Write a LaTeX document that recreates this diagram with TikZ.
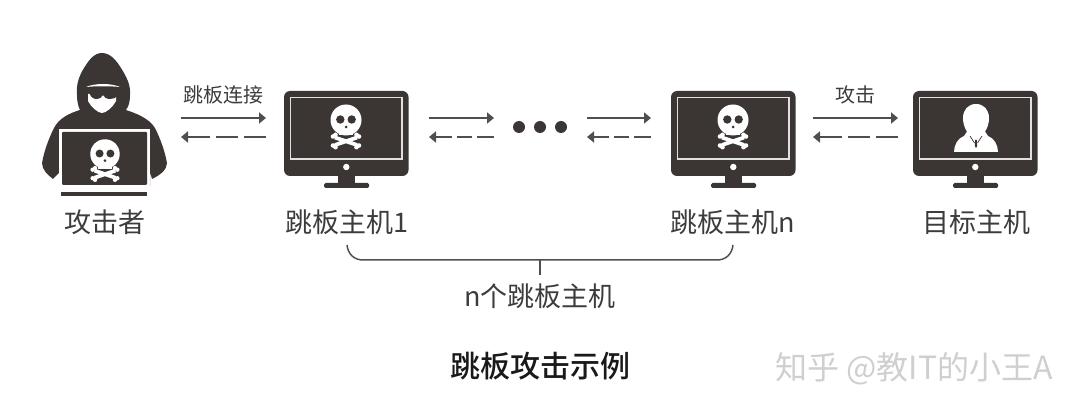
\documentclass[tikz,border=0pt]{standalone}
\usepackage{fontspec}
\setmainfont{Noto Sans CJK SC}
\newfontfamily\cjkmedium{Noto Sans CJK SC Medium}
\usetikzlibrary{arrows.meta}
\definecolor{ink}{HTML}{3B3634}
\definecolor{arrowc}{HTML}{4F4F4F}
\definecolor{labelc}{HTML}{3C3C3C}
\definecolor{wm}{HTML}{CFCFCF}
\tikzset{
  x=1pt,y=-1pt,
  lbl/.style={font=\fontsize{27pt}{30pt}\selectfont,text=labelc,inner sep=0pt},
  smalllbl/.style={font=\fontsize{20pt}{22pt}\selectfont,text=labelc,inner sep=0pt},
  solidarrow/.style={draw=arrowc,line width=2.2pt,-{Triangle[length=7pt,width=11pt]}},
  dasharrow/.style={draw=arrowc,line width=2.2pt,-{Triangle[length=7pt,width=11pt]}},
  pics/skull/.style={code={
    \fill[white] (0,0) circle (15.5);
    \fill[white] (-7,8) rectangle (7,15.5);
    \fill[ink] (-5.7,-0.5) circle (4.2) (5.7,-0.5) circle (4.2);
    \fill[ink] (0,7) circle (1.5);
    \draw[white,line width=3.8pt] (-11,25) -- (11,17.5) (-11,17.5) -- (11,25);
    \fill[white] (-13,16.5) circle (2.3) (-10.5,14.8) circle (2.3)
                 (13,16.5) circle (2.3) (10.5,14.8) circle (2.3)
                 (-13,25.5) circle (2.3) (-10.5,27.2) circle (2.3)
                 (13,25.5) circle (2.3) (10.5,27.2) circle (2.3);
  }},
  pics/screen/.style={code={
    \fill[ink,rounded corners=6pt] (0,0) rectangle (124.5,85);
    \draw[white!85!ink,line width=1.5pt] (6.5,6.5) rectangle (118,68);
    \fill[white] (62.3,76) circle (3.2);
    \fill[ink] (53.5,84) rectangle (71,93);
    \fill[ink,rounded corners=1.5pt] (40,92) rectangle (85,97);
  }},
}
\begin{document}
\begin{tikzpicture}
\useasboundingbox (0,0) rectangle (1080,414);
% attacker
\fill[ink] (102,53) .. controls (94,53) and (89,60) .. (84,68)
  .. controls (79,76) and (76,85) .. (77,95)
  .. controls (77,101) and (78,106) .. (80,110)
  .. controls (70,113) and (59,118) .. (54,128)
  .. controls (48,140) and (44,152) .. (42,163)
  .. controls (42,170) and (48,175) .. (53,179)
  -- (60,172) -- (60,186) -- (150,186) -- (150,172) -- (152,179)
  .. controls (160,175) and (167,170) .. (167,163)
  .. controls (165,152) and (161,140) .. (155,128)
  .. controls (149,118) and (135,113) .. (126,110)
  .. controls (129,106) and (130,101) .. (130,95)
  .. controls (131,85) and (126,76) .. (121,68)
  .. controls (116,60) and (110,53) .. (102,53) -- cycle;
\fill[white] (86,87) .. controls (95,83) and (111,83) .. (120,87)
  .. controls (111,86) and (95,86) .. (86,87) -- cycle;
\fill[white] (88,94) -- (116,94) -- (116,101)
  .. controls (113,107) and (106,113) .. (102,113)
  .. controls (98,113) and (91,107) .. (88,101) -- cycle;
\fill[ink] (89,90) .. controls (97,88.5) and (112,88.5) .. (120,90)
  .. controls (120,95) and (116,99) .. (110,99)
  .. controls (106,99) and (104,97) .. (103,95)
  .. controls (102,97) and (100,99) .. (96,99)
  .. controls (92,99) and (89,95) .. (89,90) -- cycle;
\fill[white] (58.5,129) rectangle (149.5,187.5);
\fill[ink,rounded corners=1pt] (62,132) rectangle (147,185);
\fill[ink] (61,192) rectangle (147,196);
\pic at (105,154) [scale=0.95] {skull};
% monitors
\pic at (284,91) {screen};
\pic at (346,120) {skull};
\pic at (671,91) {screen};
\pic at (733,120) {skull};
\pic at (913,91) {screen};
% person on target
\fill[white] (976,104) .. controls (968,104) and (963,110) .. (963,118)
  .. controls (963,127) and (968,137) .. (976,137)
  .. controls (984,137) and (989,127) .. (989,118)
  .. controls (989,110) and (984,104) .. (976,104) -- cycle;
\fill[white] (968,130) -- (984,130) -- (988,136)
  .. controls (994,138) and (998,145) .. (998,152)
  -- (954,152) .. controls (954,145) and (958,138) .. (964,136) -- cycle;
\draw[ink,line width=0.7pt] (970,136) -- (974.5,143) (982,136) -- (977.5,143);
\fill[ink] (975.2,140) -- (976.8,140) -- (977.2,146) -- (976,148) -- (974.8,146) -- cycle;
% text labels
\node[lbl] (attacker) at (105,222) {攻击者};
\node[lbl] (host1) at (346.5,222) {跳板主机1};
\node[lbl] (hostn) at (733,222) {跳板主机n};
\node[lbl] (target) at (976,222) {目标主机};
\node[smalllbl] (conn) at (223.5,95) {跳板连接};
\node[smalllbl] (atk) at (855.5,95) {攻击};
\node[lbl] (count) at (540,296) {n个跳板主机};
\node[inner sep=0pt,font=\cjkmedium\fontsize{30pt}{33pt}\selectfont,text=black!90] (title) at (540,366) {跳板攻击示例};
\node[inner sep=0pt,font=\fontsize{32pt}{35pt}\selectfont,text=wm] (mark) at (914,369) {知乎 @教IT的小王A};
% connector end points
\foreach \n/\xa/\xb in {p/181/266,q/429/494,r/587/651,s/813/898}{
  \coordinate (\n L1) at (\xa,118);
  \coordinate (\n R1) at (\xb,118);
  \coordinate (\n L2) at (\xa,137);
  \coordinate (\n R2) at (\xb,137);
}
\draw[solidarrow] (pL1) -- (pR1);
\draw[solidarrow] (qL1) -- (qR1);
\draw[solidarrow] (rL1) -- (rR1);
\draw[solidarrow] (sL1) -- (sR1);
\draw[dasharrow,dash pattern=on 22pt off 6pt on 22pt off 6pt on 40pt] (pR2) -- (pL2);
\draw[dasharrow,dash pattern=on 17pt off 5pt on 15pt off 5pt on 30pt] (qR2) -- (qL2);
\draw[dasharrow,dash pattern=on 17pt off 5pt on 15pt off 5pt on 30pt] (rR2) -- (rL2);
\draw[dasharrow,dash pattern=on 22pt off 6pt on 22pt off 6pt on 40pt] (sR2) -- (sL2);
% dots
\fill[ink] (519,127) circle (6) (540,127) circle (6) (561,127) circle (6);
% brace
\coordinate (bl) at (347,245);
\coordinate (br) at (733,245);
\coordinate (bm) at (540,260);
\coordinate (bs) at (540,275);
\draw[draw=arrowc,line width=1.5pt] (bl) .. controls (348,254) and (354,260) .. (363,260)
  -- (bm) -- (717,260) .. controls (726,260) and (732,254) .. (br);
\draw[draw=arrowc,line width=1.2pt] (bm) -- (bs);
\end{tikzpicture}
\end{document}
